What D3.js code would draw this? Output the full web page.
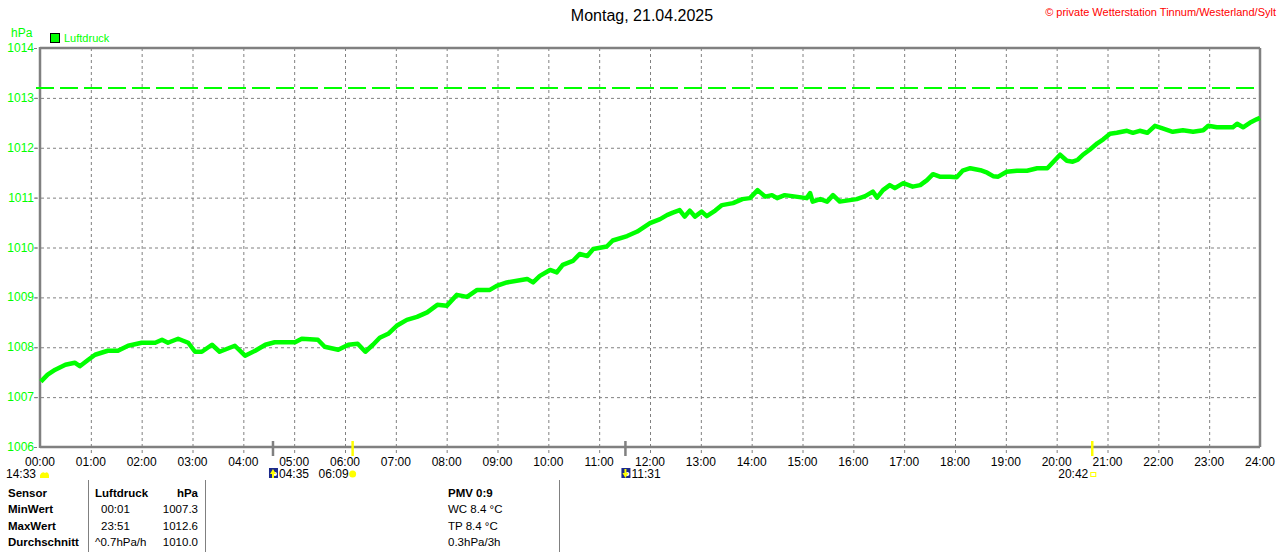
<!DOCTYPE html>
<html>
<head>
<meta charset="utf-8">
<script src="https://cdn.jsdelivr.net/npm/d3@7"></script>
<style>
  body { margin: 0; background: #fff; }
  svg { display: block; font-family: "Liberation Sans", Arial, sans-serif; }
</style>
</head>
<body>
<div id="chart"></div>
<script>
// Messwerte Luftdruck (Zeit hh:mm, hPa)
const times = ["00:01","00:09","00:18","00:30","00:41","00:47","00:57","01:05","01:20","01:32","01:44","02:00","02:16","02:24","02:31","02:43","02:55","03:03","03:11","03:23","03:32","03:50","04:02","04:14","04:26","04:37","05:01","05:09","05:28","05:36","05:52","06:04","06:15","06:24","06:33","06:41","06:51","07:01","07:13","07:25","07:37","07:49","08:00","08:12","08:24","08:36","08:51","08:59","09:11","09:35","09:42","09:50","10:02","10:10","10:17","10:29","10:37","10:46","10:53","11:09","11:16","11:33","11:45","12:00","12:12","12:20","12:27","12:35","12:41","12:47","12:53","13:01","13:07","13:17","13:25","13:38","13:49","13:58","14:07","14:16","14:24","14:30","14:39","15:05","15:09","15:12","15:21","15:29","15:36","15:44","15:56","16:04","16:14","16:23","16:28","16:35","16:43","16:49","16:59","17:10","17:19","17:27","17:34","17:42","17:54","18:02","18:09","18:18","18:30","18:38","18:45","18:51","19:01","19:13","19:25","19:37","19:49","19:54","20:04","20:12","20:19","20:25","20:31","20:39","20:48","20:55","21:03","21:11","21:23","21:30","21:38","21:47","21:56","22:05","22:17","22:29","22:41","22:53","22:59","23:09","23:28","23:33","23:40","23:48","23:56","24:00"];
const pressure = [1007.31,1007.45,1007.55,1007.65,1007.69,1007.62,1007.75,1007.85,1007.93,1007.93,1008.03,1008.09,1008.09,1008.15,1008.09,1008.17,1008.09,1007.91,1007.91,1008.05,1007.91,1008.03,1007.83,1007.93,1008.05,1008.10,1008.10,1008.17,1008.15,1008.01,1007.95,1008.05,1008.07,1007.91,1008.05,1008.19,1008.27,1008.43,1008.55,1008.61,1008.70,1008.85,1008.83,1009.05,1009.01,1009.15,1009.15,1009.23,1009.30,1009.37,1009.30,1009.43,1009.55,1009.50,1009.65,1009.73,1009.87,1009.83,1009.97,1010.02,1010.14,1010.23,1010.32,1010.49,1010.57,1010.65,1010.70,1010.75,1010.62,1010.74,1010.62,1010.72,1010.63,1010.74,1010.85,1010.89,1010.97,1010.99,1011.15,1011.02,1011.05,1010.99,1011.05,1010.99,1011.09,1010.92,1010.97,1010.92,1011.05,1010.92,1010.95,1010.97,1011.03,1011.12,1011.00,1011.15,1011.25,1011.19,1011.29,1011.22,1011.25,1011.35,1011.47,1011.42,1011.42,1011.41,1011.54,1011.59,1011.55,1011.50,1011.43,1011.42,1011.52,1011.54,1011.54,1011.59,1011.59,1011.68,1011.86,1011.74,1011.72,1011.76,1011.86,1011.96,1012.09,1012.17,1012.28,1012.30,1012.34,1012.30,1012.34,1012.30,1012.44,1012.39,1012.32,1012.35,1012.32,1012.35,1012.44,1012.41,1012.41,1012.48,1012.41,1012.50,1012.57,1012.60];

const yTicks = [1006, 1007, 1008, 1009, 1010, 1011, 1012, 1013, 1014];
const hourTicks = d3.range(0, 25);
const refLine = 1013.2;

// Sonne / Mond
const events = [
  { time: "04:35", label: "04:35", kind: "moonrise" },
  { time: "06:09", label: "06:09", kind: "sunrise" },
  { time: "11:31", label: "11:31", kind: "moonset" },
  { time: "20:42", label: "20:42", kind: "sunset" }
];

// Tabelle
const tableHead = ["Sensor", "Luftdruck", "hPa"];
const tableRows = [
  ["MinWert", "00:01", "1007.3"],
  ["MaxWert", "23:51", "1012.6"],
  ["Durchschnitt", "^0.7hPa/h", "1010.0"]
];
const extraInfo = ["PMV 0:9", "WC 8.4 °C", "TP 8.4 °C", "0.3hPa/3h"];

const toMin = t => { const [h, m] = t.split(":").map(Number); return h * 60 + m; };
const data = times.map((t, i) => ({ t: toMin(t), v: pressure[i] }));

const W = 1280, H = 552;
const svg = d3.select("#chart").append("svg").attr("width", W).attr("height", H);

const x = d3.scaleLinear().domain([0, 1440]).range([40, 1260]);
const y = d3.scaleLinear().domain([1006, 1014]).range([447, 48]);

const grey = "#808080";
const green = "#00ff00";

// Gitter horizontal
svg.append("g")
  .selectAll("line")
  .data(yTicks.slice(1, -1))
  .join("line")
  .attr("x1", 35).attr("x2", x(1440))
  .attr("y1", d => y(d) + 0.5).attr("y2", d => y(d) + 0.5)
  .attr("stroke", grey).attr("stroke-dasharray", "3,3");

// Gitter vertikal
svg.append("g")
  .selectAll("line")
  .data(hourTicks.slice(1, -1))
  .join("line")
  .attr("x1", d => x(d * 60) + 0.5).attr("x2", d => x(d * 60) + 0.5)
  .attr("y1", y(1014)).attr("y2", y(1006) + 6)
  .attr("stroke", grey).attr("stroke-dasharray", "3,3");

// kleine Ticks links
svg.append("g")
  .selectAll("line")
  .data(yTicks)
  .join("line")
  .attr("x1", 34).attr("x2", 40)
  .attr("y1", d => y(d) + 0.5).attr("y2", d => y(d) + 0.5)
  .attr("stroke", grey).attr("stroke-dasharray", "3,2");

// Rahmen
svg.append("line").attr("x1", x(0)).attr("x2", x(1440)).attr("y1", y(1014)).attr("y2", y(1014))
  .attr("stroke", grey).attr("stroke-width", 2.5);
svg.append("line").attr("x1", x(1440)).attr("x2", x(1440)).attr("y1", y(1014)).attr("y2", y(1006))
  .attr("stroke", grey).attr("stroke-width", 2.5);
svg.append("line").attr("x1", x(0)).attr("x2", x(0)).attr("y1", y(1014) - 1).attr("y2", y(1006) + 1)
  .attr("stroke", grey).attr("stroke-width", 2.5);
svg.append("line").attr("x1", x(0)).attr("x2", x(1440)).attr("y1", y(1006)).attr("y2", y(1006))
  .attr("stroke", grey).attr("stroke-width", 2.5);

// Referenzlinie
svg.append("line")
  .attr("x1", 36).attr("x2", 1254)
  .attr("y1", y(refLine)).attr("y2", y(refLine))
  .attr("stroke", green).attr("stroke-width", 2)
  .attr("stroke-dasharray", "18,6");

// Kurve
const line = d3.line().x(d => x(d.t)).y(d => y(d.v));
svg.append("path")
  .datum(data)
  .attr("d", line)
  .attr("fill", "none")
  .attr("stroke", green)
  .attr("stroke-width", 4.5)
  .attr("stroke-linejoin", "round");

// Y-Beschriftung
svg.append("g")
  .selectAll("text")
  .data(yTicks)
  .join("text")
  .attr("x", 34).attr("y", d => y(d) + 4)
  .attr("text-anchor", "end")
  .attr("fill", green)
  .attr("font-size", 12)
  .text(d => d);

svg.append("text").attr("x", 11).attr("y", 37).attr("fill", green).attr("font-size", 12).text("hPa");

// Legende
svg.append("rect").attr("x", 50.5).attr("y", 33.5).attr("width", 9).attr("height", 9)
  .attr("fill", green).attr("stroke", "#000");
svg.append("text").attr("x", 64).attr("y", 42).attr("fill", green).attr("font-size", 11).text("Luftdruck");

// Titel
svg.append("text").attr("x", 642).attr("y", 21).attr("text-anchor", "middle")
  .attr("font-size", 16).attr("fill", "#000").text("Montag, 21.04.2025");

svg.append("text").attr("x", 1276).attr("y", 16).attr("text-anchor", "end")
  .attr("font-size", 11).attr("fill", "#ff0000").text("© private Wetterstation Tinnum/Westerland/Sylt");

// X-Beschriftung
svg.append("g")
  .selectAll("text")
  .data(hourTicks)
  .join("text")
  .attr("x", d => x(d * 60)).attr("y", 466)
  .attr("text-anchor", "middle")
  .attr("font-size", 12)
  .attr("fill", "#000")
  .text(d => String(d).padStart(2, "0") + ":00");

// Sonne/Mond Markierungen
const ev = svg.append("g");
events.forEach(e => {
  const ex = x(toMin(e.time));
  const isSun = e.kind.startsWith("sun");
  ev.append("line").attr("x1", ex).attr("x2", ex).attr("y1", 441).attr("y2", 456)
    .attr("stroke", isSun ? "#ffff00" : grey).attr("stroke-width", 2.5);
  if (e.kind === "moonrise" || e.kind === "moonset") {
    const ix = ex - 4;
    ev.append("rect").attr("x", ix).attr("y", 468).attr("width", 9).attr("height", 10).attr("fill", "#1c2a8c");
    ev.append("circle").attr("cx", ix + 6).attr("cy", 474).attr("r", 2).attr("fill", "#fff");
    const up = e.kind === "moonrise";
    ev.append("path")
      .attr("d", up ? `M${ix + 4},469 L${ix + 1},474 L${ix + 3},474 L${ix + 3},478 L${ix + 5},478 L${ix + 5},474 L${ix + 7},474 Z`
                    : `M${ix + 4},478 L${ix + 1},473 L${ix + 3},473 L${ix + 3},469 L${ix + 5},469 L${ix + 5},473 L${ix + 7},473 Z`)
      .attr("fill", "#ffff00");
    ev.append("text").attr("x", ix + 10).attr("y", 478).attr("font-size", 12).attr("fill", "#000").text(e.label);
  } else if (e.kind === "sunrise") {
    ev.append("text").attr("x", ex - 4).attr("y", 478).attr("text-anchor", "end").attr("font-size", 12).attr("fill", "#000").text(e.label);
    ev.append("circle").attr("cx", ex).attr("cy", 474).attr("r", 3.5).attr("fill", "#ffff00");
  } else {
    ev.append("text").attr("x", ex - 4).attr("y", 478).attr("text-anchor", "end").attr("font-size", 12).attr("fill", "#000").text(e.label);
    ev.append("rect").attr("x", ex - 1.5).attr("y", 472.5).attr("width", 5).attr("height", 4)
      .attr("fill", "none").attr("stroke", "#ffff00");
  }
});

// 14:33 mit Wolke
svg.append("text").attr("x", 36).attr("y", 478).attr("text-anchor", "end").attr("font-size", 12).attr("fill", "#000").text("14:33");
svg.append("path").attr("d", "M40,478 L40,475 Q42,471 45,473 Q48,471 49,475 L49,478 Z").attr("fill", "#ffff00");

// Tabelle
const tbl = svg.append("g").attr("font-size", 11.5).attr("fill", "#000");
[88.5, 205.5, 559.5].forEach(sx => {
  svg.append("line").attr("x1", sx).attr("x2", sx).attr("y1", 480).attr("y2", 552)
    .attr("stroke", grey).attr("stroke-width", 1);
});
const rowY = [497, 513, 530, 546];
tbl.append("text").attr("x", 8).attr("y", rowY[0]).attr("font-weight", "bold").text(tableHead[0]);
tbl.append("text").attr("x", 95).attr("y", rowY[0]).attr("font-weight", "bold").text(tableHead[1]);
tbl.append("text").attr("x", 198).attr("y", rowY[0]).attr("text-anchor", "end").attr("font-weight", "bold").text(tableHead[2]);
tableRows.forEach((r, i) => {
  tbl.append("text").attr("x", 8).attr("y", rowY[i + 1]).attr("font-weight", "bold").text(r[0]);
  tbl.append("text").attr("x", i === 2 ? 95 : 101).attr("y", rowY[i + 1]).text(r[1]);
  tbl.append("text").attr("x", 198).attr("y", rowY[i + 1]).attr("text-anchor", "end").text(r[2]);
});
extraInfo.forEach((t, i) => {
  tbl.append("text").attr("x", 448).attr("y", rowY[i]).attr("font-weight", i === 0 ? "bold" : "normal").text(t);
});
</script>
</body>
</html>
